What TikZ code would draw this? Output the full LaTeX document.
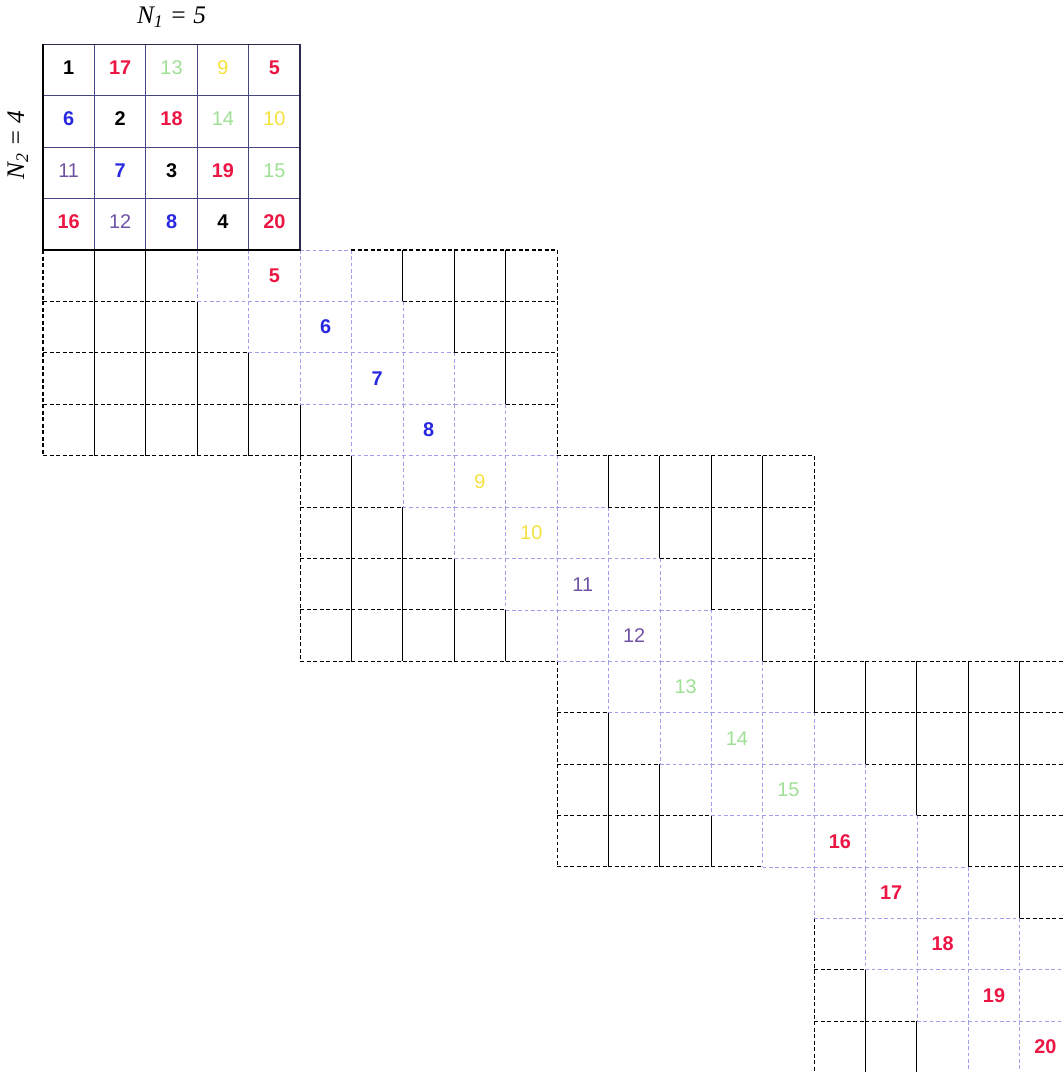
\documentclass[tikz,border=0pt]{standalone}
\usepackage{fontspec}
\setmainfont{Liberation Serif}
\setsansfont{Liberation Sans}
\definecolor{myred}{RGB}{236,22,68}
\definecolor{myblue}{RGB}{40,40,225}
\definecolor{mypurple}{RGB}{112,82,165}
\definecolor{mygreen}{RGB}{158,224,148}
\definecolor{myyellow}{RGB}{245,225,60}
\definecolor{bandblue}{RGB}{160,160,235}
\definecolor{gridnavy}{RGB}{70,70,130}

\begin{document}
\begin{tikzpicture}[x=10mm, y=-10mm,
        band/.style={draw=bandblue, line width=0.4pt, dash pattern=on 2pt off 1.5pt},
        blk/.style={draw=black, line width=0.6pt, dash pattern=on 2.2pt off 1.4pt},
        blkv/.style={draw=black, line width=0.5pt},
        nk/.style={font=\sffamily\bfseries\fontsize{11}{13}\selectfont, text=black},
        nr/.style={nk, text=myred},
        nb/.style={nk, text=myblue},
        np/.style={font=\sffamily\fontsize{11}{13}\selectfont, text=mypurple},
        ng/.style={np, text=mygreen},
        ny/.style={np, text=myyellow}]
        %Bildbereich
        \useasboundingbox (-0.837,-4.864) rectangle (19.84,15.99);
        \clip (-0.837,-4.864) rectangle (19.84,15.99);
        % Bloecke: senkrechte Linien
        \foreach \b in {0,...,3}
          \foreach \k in {0,...,10}
            \foreach \r in {0,...,3}{
              \pgfmathtruncatemacro\kk{5*\b+\k}
              \pgfmathtruncatemacro\rr{4*\b+\r}
              \pgfmathtruncatemacro\inb{and(\kk-\rr>2,\kk-\rr<7)}
              \ifnum\inb=1 \def\st{band}\else
                \ifnum\k=0 \def\st{blk}\else
                  \ifnum\k=10 \def\st{blk}\else\def\st{blkv}\fi\fi\fi
              \draw[\st] (\kk,\rr) -- (\kk,\rr+1);
            }
        % Bloecke: waagrechte Linien
        \foreach \b in {0,...,3}
          \foreach \j in {0,...,4}
            \foreach \c in {0,...,9}{
              \pgfmathtruncatemacro\jj{4*\b+\j}
              \pgfmathtruncatemacro\cc{5*\b+\c}
              \pgfmathtruncatemacro\zeig{or(\j<4,and(\c<5,\b<3))}
              \pgfmathtruncatemacro\inb{and(\cc-\jj>1,\cc-\jj<6)}
              \ifnum\inb=1 \def\st{band}\else\def\st{blk}\fi
              \ifnum\zeig=1 \draw[\st] (\cc,\jj) -- (\cc+1,\jj); \fi
            }
        % Raster oben
        \fill[white] (0,-4) rectangle (5,0);
        \draw[gridnavy, line width=0.5pt] (0,-4) grid (5,0);
        \draw[gridnavy!60!black, line width=0.8pt] (0,-4) rectangle (5,0);
        \draw[black, line width=1pt] (0,-4) -- (0,0) -- (5,0);
        % Beschriftung
        \node (n1) at (2.5,-4.53) {\fontsize{14}{16}\selectfont\itshape N\textsubscript{1} = 5};
        \node[rotate=90] (n2) at (-0.49,-2.04) {\fontsize{14}{16}\selectfont\itshape N\textsubscript{2} = 4};
        % Zahlen
        \foreach \n/\s in {1/nk,2/nk,3/nk,4/nk,5/nr,6/nb,7/nb,8/nb,9/ny,10/ny,
                           11/np,12/np,13/ng,14/ng,15/ng,16/nr,17/nr,18/nr,19/nr,20/nr}{
          \pgfmathtruncatemacro\rr{mod(\n-1,4)}
          \pgfmathtruncatemacro\cc{mod(\n-1,5)}
          \node[\s] (t\n) at (\cc+0.5,\rr-3.55) {\n};
          \ifnum\n>4 \node[\s] (d\n) at (\n-0.5,\n-4.5) {\n}; \fi
        }
    \end{tikzpicture}
\end{document}
